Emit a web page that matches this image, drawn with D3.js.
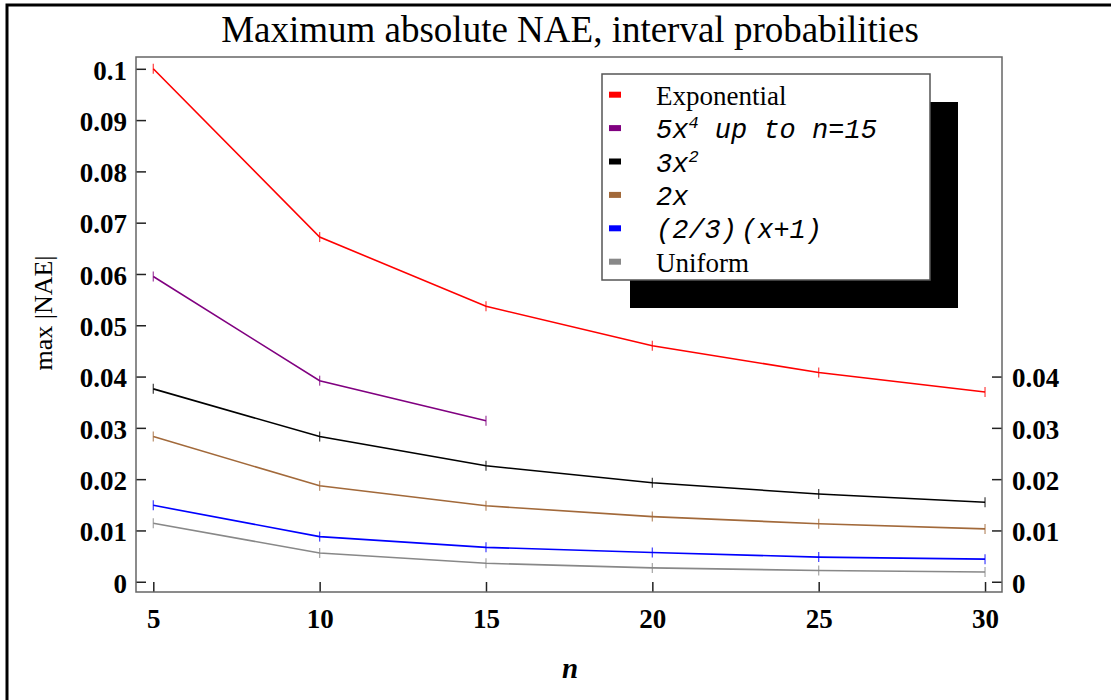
<!DOCTYPE html>
<html>
<head>
<meta charset="utf-8">
<script src="https://cdnjs.cloudflare.com/ajax/libs/d3/7.8.5/d3.min.js"></script>
<style>
  body { margin: 0; background: white; }
</style>
</head>
<body>
<div id="chart"></div>
<script>
var nValues = [5, 10, 15, 20, 25, 30];

var exponential = [0.1, 0.0672, 0.0537, 0.0460, 0.0408, 0.0370];
var quartic = [0.0595, 0.0392, 0.0314];
var quadratic = [0.0376, 0.0283, 0.0226, 0.0193, 0.0171, 0.0155];
var linear = [0.0283, 0.0187, 0.0148, 0.0127, 0.0113, 0.0103];
var shifted = [0.0149, 0.0088, 0.0067, 0.0057, 0.0048, 0.0044];
var uniform = [0.0114, 0.0056, 0.0036, 0.0027, 0.0022, 0.0019];

var leftTicks = [0, 0.01, 0.02, 0.03, 0.04, 0.05, 0.06, 0.07, 0.08, 0.09, 0.1];
var rightTicks = [0, 0.01, 0.02, 0.03, 0.04];
var xTicks = [5, 10, 15, 20, 25, 30];

var seriesNames = ["Exponential", "5x4 up to n=15", "3x2", "2x", "(2/3) (x+1)", "Uniform"];
var seriesValues = [exponential, quartic, quadratic, linear, shifted, uniform];
var seriesColors = ["#ff0000", "#800080", "#000000", "#a2693a", "#0000ff", "#888888"];

function drawChart() {

    var width = 1111;
    var height = 700;

    var plot = {
        left: 136,
        right: 1002,
        top: 57,
        bottom: 592
    };

    var serif = "'Liberation Serif', 'Times New Roman', serif";
    var mono = "'Liberation Mono', 'Courier New', monospace";

    var svg = d3.select("#chart").append("svg")
        .attr("width", width)
        .attr("height", height);

    // outer frame, runs off the right and bottom of the picture
    svg.append("rect")
        .attr("x", 7)
        .attr("y", 5)
        .attr("width", width + 20)
        .attr("height", height + 20)
        .attr("fill", "white")
        .attr("stroke", "black")
        .attr("stroke-width", 3);

    var x = d3.scaleLinear()
        .domain([4.48, 30.51])
        .range([plot.left, plot.right]);

    var y = d3.scaleLinear()
        .domain([-0.002, 0.1023])
        .range([plot.bottom, plot.top]);

    svg.append("text")
        .attr("x", 570)
        .attr("y", 42)
        .attr("text-anchor", "middle")
        .style("font-family", serif)
        .style("font-size", "37px")
        .text("Maximum absolute NAE, interval probabilities");

    // axes, ticks drawn inward
    var leftAxis = svg.append("g")
        .attr("transform", "translate(" + plot.left + ",0)")
        .call(d3.axisLeft(y).tickValues(leftTicks).tickFormat(d3.format("~g"))
            .tickSizeInner(-10).tickSizeOuter(0).tickPadding(9));

    var rightAxis = svg.append("g")
        .attr("transform", "translate(" + plot.right + ",0)")
        .call(d3.axisRight(y).tickValues(rightTicks).tickFormat(d3.format("~g"))
            .tickSizeInner(-10).tickSizeOuter(0).tickPadding(10));

    var bottomAxis = svg.append("g")
        .attr("transform", "translate(0," + plot.bottom + ")")
        .call(d3.axisBottom(x).tickValues(xTicks).tickFormat(d3.format("d"))
            .tickSizeInner(-10).tickSizeOuter(0));

    [leftAxis, rightAxis, bottomAxis].forEach(function(ax) {
        ax.select(".domain").remove();
        ax.selectAll("line").attr("stroke", "#222").attr("stroke-width", 1.5);
        ax.selectAll("text")
            .attr("fill", "black")
            .style("font-family", serif)
            .style("font-size", "27px")
            .style("font-weight", "bold");
    });
    leftAxis.selectAll("text").attr("dy", "0.38em");
    rightAxis.selectAll("text").attr("dy", "0.38em");
    bottomAxis.selectAll("text").attr("dy", 0).attr("y", 36);

    // plot box
    svg.append("rect")
        .attr("x", plot.left)
        .attr("y", plot.top)
        .attr("width", plot.right - plot.left)
        .attr("height", plot.bottom - plot.top)
        .attr("fill", "none")
        .attr("stroke", "#666")
        .attr("stroke-width", 1.5);

    var line = d3.line()
        .x(function(d, i) { return x(nValues[i]); })
        .y(function(d) { return y(d); });

    seriesValues.forEach(function(vals, s) {
        svg.append("path")
            .datum(vals)
            .attr("d", line)
            .attr("fill", "none")
            .attr("stroke", seriesColors[s])
            .attr("stroke-width", 1.6);

        svg.selectAll(null)
            .data(vals)
            .enter().append("line")
            .attr("x1", function(d, i) { return x(nValues[i]); })
            .attr("x2", function(d, i) { return x(nValues[i]); })
            .attr("y1", function(d) { return y(d) - 5; })
            .attr("y2", function(d) { return y(d) + 5; })
            .attr("stroke", seriesColors[s])
            .attr("stroke-opacity", 0.7)
            .attr("stroke-width", 1.3);
    });

    svg.append("text")
        .attr("transform", "translate(52,313) rotate(-90)")
        .attr("text-anchor", "middle")
        .style("font-family", serif)
        .style("font-size", "26px")
        .text("max |NAE|");

    svg.append("text")
        .attr("x", 570)
        .attr("y", 678)
        .attr("text-anchor", "middle")
        .style("font-family", serif)
        .style("font-size", "29px")
        .style("font-weight", "bold")
        .style("font-style", "italic")
        .text("n");

    // legend with drop shadow
    var legend = {
        x: 602,
        y: 74,
        width: 328,
        height: 206
    };

    svg.append("rect")
        .attr("x", legend.x + 28)
        .attr("y", legend.y + 28)
        .attr("width", legend.width)
        .attr("height", legend.height)
        .attr("fill", "black");

    svg.append("rect")
        .attr("x", legend.x)
        .attr("y", legend.y)
        .attr("width", legend.width)
        .attr("height", legend.height)
        .attr("fill", "white")
        .attr("stroke", "#555")
        .attr("stroke-width", 1.5);

    var rowStep = 33.4;

    seriesNames.forEach(function(name, s) {
        var cy = legend.y + 20.7 + s * rowStep;

        svg.append("rect")
            .attr("x", legend.x + 7)
            .attr("y", cy - 3)
            .attr("width", 12)
            .attr("height", 6)
            .attr("fill", seriesColors[s]);

        var t = svg.append("text")
            .attr("x", legend.x + 54)
            .attr("y", cy + 10)
            .attr("xml:space", "preserve")
            .style("white-space", "pre");

        if (name == "Exponential" || name == "Uniform") {
            t.style("font-family", serif).style("font-size", "27px").text(name);
        } else {
            t.style("font-family", mono).style("font-size", "27px").style("font-style", "italic");
            if (name == "5x4 up to n=15") {
                t.append("tspan").text("5x");
                t.append("tspan").attr("dy", -10).style("font-size", "17px").text("4");
                t.append("tspan").attr("dy", 10).text(" up to n=15");
            } else if (name == "3x2") {
                t.append("tspan").text("3x");
                t.append("tspan").attr("dy", -10).style("font-size", "17px").text("2");
            } else if (name.indexOf(") (") > 0) {
                // narrow gap between the two bracket groups
                var parts = name.split(" ");
                t.append("tspan").text(parts[0]);
                t.append("tspan").attr("dx", 4).text(parts[1]);
            } else {
                t.text(name);
            }
        }
    });
}

drawChart();
</script>
</body>
</html>
